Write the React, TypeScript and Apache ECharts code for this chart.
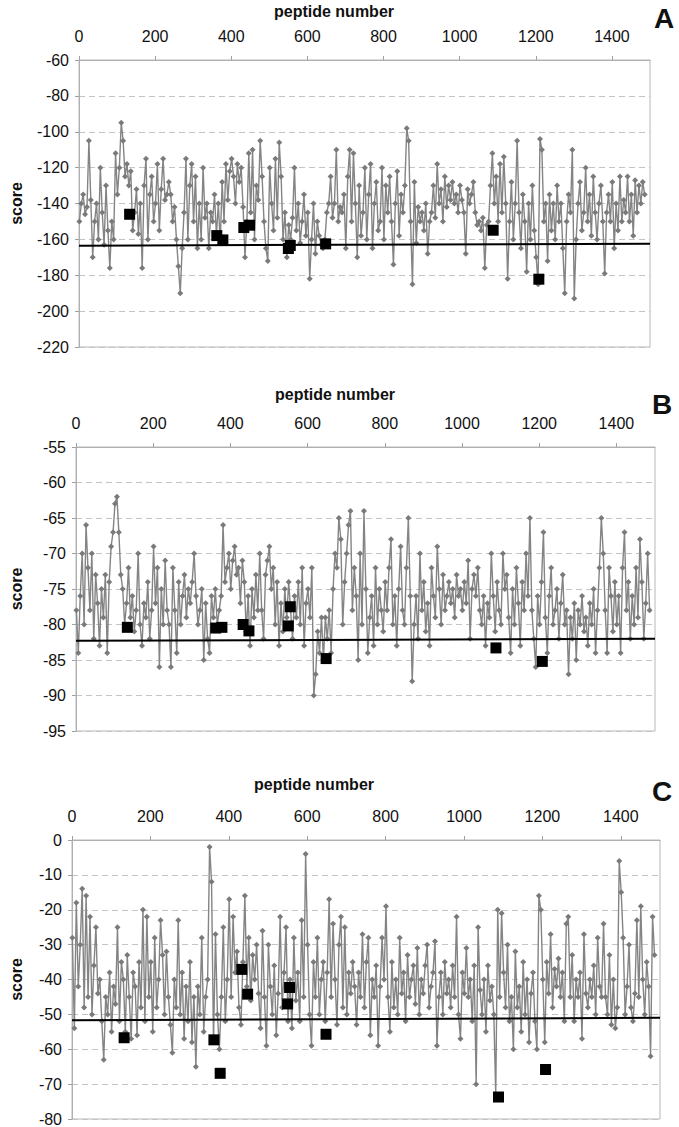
import React, { useEffect, useRef } from "react";
import * as echarts from "echarts";

// Scores, one sample every STEP peptides (1, 6, 11, ...)
const STEP = 5;

const scoresA = [
  -150, -140, -135, -146, -142, -105, -138, -170, -150, -140, -160, -120, -145, -163, -130, -155,
  -176, -150, -160, -112, -135, -120, -95, -105, -125, -118, -130, -122, -155, -145, -132, -157,
  -140, -176, -130, -115, -160, -135, -125, -150, -140, -118, -155, -132, -115, -138, -135, -128,
  -135, -150, -142, -160, -175, -190, -165, -145, -115, -160, -130, -118, -150, -125, -165, -140,
  -160, -120, -148, -140, -165, -145, -150, -135, -158, -140, -162, -128, -150, -118, -138, -122,
  -115, -125, -140, -118, -128, -120, -142, -170, -150, -112, -145, -110, -160, -130, -138, -105,
  -125, -150, -165, -172, -120, -140, -155, -115, -148, -106, -125, -160, -145, -170, -152, -160,
  -148, -120, -155, -140, -162, -150, -135, -158, -145, -182, -160, -140, -168, -150, -158, -163,
  -165, -160, -145, -140, -125, -148, -140, -110, -150, -142, -145, -135, -165, -125, -110, -150,
  -112, -140, -170, -130, -158, -145, -120, -160, -135, -118, -165, -140, -128, -155, -150, -120,
  -160, -130, -145, -125, -150, -174, -140, -122, -158, -135, -145, -130, -98, -105, -150, -185,
  -128, -162, -142, -150, -145, -155, -140, -168, -150, -145, -130, -148, -118, -140, -132, -150,
  -125, -142, -130, -138, -128, -140, -135, -145, -130, -138, -145, -168, -132, -140, -135, -128,
  -145, -152, -150, -155, -148, -176, -152, -150, -130, -112, -140, -125, -150, -118, -145, -114,
  -140, -182, -150, -128, -160, -140, -105, -145, -165, -135, -150, -178, -140, -160, -130, -155,
  -170, -185, -104, -110, -150, -140, -172, -135, -155, -140, -160, -130, -150, -140, -165, -190,
  -150, -135, -145, -110, -193, -160, -140, -128, -155, -145, -120, -150, -135, -158, -125, -145,
  -160, -140, -130, -150, -179, -145, -135, -150, -128, -165, -140, -155, -125, -150, -138, -145,
  -125, -150, -135, -158, -127, -145, -130, -140, -128, -135,
];

const scoresB = [
  -78, -84, -76, -70, -80, -66, -72, -78, -70, -82, -73, -77, -83, -75, -79, -73,
  -84, -74, -69, -67, -63, -62, -67, -73, -75, -80, -77, -72, -79, -76, -81, -78,
  -70, -80, -83, -77, -79, -74, -82, -78, -69, -77, -72, -86, -75, -80, -71, -78,
  -80, -86, -72, -78, -84, -74, -80, -76, -73, -79, -75, -77, -74, -70, -76, -80,
  -78, -75, -85, -77, -82, -84, -76, -79, -75, -80, -78, -76, -66, -74, -72, -70,
  -75, -71, -69, -73, -72, -77, -71, -74, -81, -76, -83, -75, -79, -73, -78, -70,
  -78, -82, -73, -71, -69, -75, -72, -80, -74, -83, -77, -81, -75, -79, -74, -78,
  -82, -76, -79, -74, -80, -72, -83, -77, -75, -79, -72, -90, -87, -81, -84, -79,
  -85, -79, -82, -78, -84, -75, -70, -72, -65, -68, -80, -74, -70, -66, -64, -78,
  -72, -76, -85, -70, -80, -64, -75, -84, -79, -76, -83, -72, -80, -75, -78, -81,
  -74, -78, -72, -68, -80, -76, -83, -75, -69, -78, -80, -72, -65, -76, -88, -80,
  -76, -82, -70, -78, -74, -81, -77, -83, -72, -76, -79, -69, -75, -80, -73, -78,
  -76, -74, -77, -75, -79, -73, -76, -75, -78, -74, -77, -71, -82, -75, -73, -76,
  -72, -78, -80, -76, -83, -77, -79, -70, -76, -81, -74, -78, -80, -70, -75, -73,
  -79, -84, -75, -80, -72, -77, -83, -74, -78, -70, -76, -65, -78, -82, -86, -76,
  -80, -74, -67, -79, -84, -76, -72, -80, -78, -75, -82, -77, -73, -80, -78, -87,
  -79, -82, -77, -85, -78, -80, -76, -81, -79, -83, -77, -80, -75, -84, -78, -72,
  -65, -70, -78, -84, -72, -76, -81, -74, -80, -76, -84, -72, -67, -78, -74, -82,
  -76, -80, -72, -79, -68, -74, -82, -77, -70, -78,
];

const scoresC = [
  -28, -54, -18, -42, -30, -14, -48, -16, -45, -22, -50, -36, -25, -44, -40, -52,
  -63, -45, -50, -38, -55, -42, -47, -25, -52, -35, -40, -55, -33, -45, -57, -38,
  -42, -56, -35, -48, -20, -52, -22, -45, -35, -55, -28, -48, -40, -23, -33, -50,
  -32, -45, -53, -61, -40, -48, -23, -50, -38, -57, -42, -52, -35, -58, -45, -65,
  -42, -50, -28, -55, -45, -40, -2, -12, -58, -27, -50, -60, -45, -25, -52, -40,
  -17, -45, -22, -38, -32, -48, -53, -35, -16, -42, -28, -46, -33, -40, -30, -44,
  -54, -26, -45, -59, -30, -42, -50, -36, -56, -44, -22, -48, -38, -25, -52, -40,
  -54, -28, -46, -38, -52, -23, -45, -4, -30, -50, -59, -35, -45, -28, -50, -40,
  -35, -52, -38, -17, -45, -24, -40, -53, -30, -22, -48, -25, -50, -38, -44, -35,
  -42, -53, -38, -45, -27, -48, -35, -28, -56, -40, -45, -36, -59, -42, -28, -40,
  -19, -45, -55, -35, -48, -40, -50, -28, -44, -38, -52, -33, -45, -40, -36, -47,
  -31, -50, -40, -44, -36, -30, -48, -42, -38, -29, -59, -45, -38, -50, -35, -44,
  -40, -48, -36, -45, -22, -50, -57, -38, -44, -31, -45, -40, -52, -36, -70, -25,
  -43, -50, -40, -55, -36, -46, -42, -50, -73, -20, -45, -21, -38, -48, -30, -52,
  -45, -60, -32, -48, -42, -55, -35, -50, -40, -58, -44, -38, -52, -60, -16, -20,
  -40, -58, -35, -44, -27, -48, -37, -42, -34, -45, -38, -52, -24, -22, -45, -33,
  -52, -40, -45, -38, -57, -27, -44, -48, -40, -45, -36, -50, -28, -42, -45, -24,
  -45, -50, -33, -53, -40, -54, -48, -6, -15, -28, -50, -42, -30, -48, -52, -44,
  -23, -45, -19, -40, -50, -35, -42, -62, -22, -33,
];

// highlighted peptides (black squares)
const markedPeptides = [133, 362, 378, 433, 448, 550, 555, 648, 1088, 1208];
const markedA = [-146, -157.9, -160.3, -153.4, -152.1, -165.1, -163.4, -162.5, -154.9, -182.2];
const markedB = [-80.4, -80.5, -80.4, -80.0, -80.9, -80.2, -77.5, -84.8, -83.3, -85.2];
const markedC = [-56.7, -57.3, -66.9, -37.1, -44.2, -47.0, -42.3, -55.7, -73.7, -65.8];

// threshold line (start, end)
const thresholdX = [0, 1500];
const thresholdA = [-163.5, -162.5];
const thresholdB = [-82.3, -82.0];
const thresholdC = [-51.7, -51.0];

const panelLetters = ["A", "B", "C"];
const xTitle = "peptide number";
const yTitle = "score";
const xMin = 0;
const xMax = 1500;
const xInterval = 200;
const yMins = [-220, -95, -80];
const yMaxs = [-60, -55, 0];
const yIntervals = [20, 5, 10];

const FONT = '"Liberation Sans", Arial, Helvetica, sans-serif';

export default function App() {
  const ref = useRef<HTMLDivElement>(null);

  useEffect(() => {
    document.body.style.margin = "0";
    if (!ref.current) return;
    const chart = echarts.init(ref.current, undefined, { renderer: "svg" });

    const scores = [scoresA, scoresB, scoresC];
    const marked = [markedA, markedB, markedC];
    const thresholds = [thresholdA, thresholdB, thresholdC];

    const grids = [
      { left: 64, top: 60, width: 586, height: 287 },
      { left: 61, top: 447, width: 594, height: 284 },
      { left: 57, top: 840, width: 603, height: 280 },
    ];
    const nameGaps = [55, 52, 48];
    const titlePos = [
      [334, 11],
      [335, 394],
      [314, 784],
    ];
    const letterPos = [
      [664, 18],
      [662, 404],
      [662, 791],
    ];

    const xAxis: any[] = [];
    const yAxis: any[] = [];
    const series: any[] = [];
    const graphic: any[] = [];

    for (let i = 0; i < 3; i++) {
      xAxis.push({
        type: "value",
        gridIndex: i,
        position: "top",
        min: xMin,
        max: xMax,
        interval: xInterval,
        axisLine: { show: true, lineStyle: { color: "#b0b0b0", width: 1 } },
        axisTick: { show: true, length: 4, lineStyle: { color: "#a0a0a0" } },
        axisLabel: {
          show: true,
          showMaxLabel: false,
          margin: 16,
          fontSize: 16,
          color: "#111",
          fontFamily: FONT,
          formatter: (v: number) => String(v),
        },
        splitLine: { show: false },
      });
      yAxis.push({
        type: "value",
        gridIndex: i,
        min: yMins[i],
        max: yMaxs[i],
        interval: yIntervals[i],
        name: yTitle,
        nameLocation: "middle",
        nameGap: nameGaps[i],
        nameRotate: 90,
        nameTextStyle: { fontSize: 16, fontWeight: "bold", color: "#111", fontFamily: FONT },
        axisLine: { show: true, lineStyle: { color: "#b0b0b0", width: 1 } },
        axisTick: { show: true, length: 4, lineStyle: { color: "#a0a0a0" } },
        axisLabel: {
          margin: 10,
          fontSize: 16,
          color: "#111",
          fontFamily: FONT,
          formatter: (v: number) => String(v),
        },
        splitLine: {
          show: true,
          lineStyle: { color: "#c4c4c4", type: [6, 4], width: 1 },
        },
      });

      const pts = scores[i].map((v, k) => [1 + k * STEP, v]);
      series.push({
        type: "line",
        xAxisIndex: i,
        yAxisIndex: i,
        data: pts,
        symbol: "diamond",
        symbolSize: 6,
        showSymbol: true,
        lineStyle: { color: "#848484", width: 1.4 },
        itemStyle: { color: "#7a7a7a", opacity: 1 },
        z: 2,
        silent: true,
      });
      series.push({
        type: "line",
        xAxisIndex: i,
        yAxisIndex: i,
        data: thresholdX.map((x, k) => [x, thresholds[i][k]]),
        symbol: "none",
        lineStyle: { color: "#000", width: 2 },
        z: 3,
        silent: true,
      });
      series.push({
        type: "scatter",
        xAxisIndex: i,
        yAxisIndex: i,
        data: markedPeptides.map((x, k) => [x, marked[i][k]]),
        symbol: "rect",
        symbolSize: 11,
        itemStyle: { color: "#000", opacity: 1 },
        z: 4,
        silent: true,
      });

      graphic.push({
        type: "text",
        x: titlePos[i][0],
        y: titlePos[i][1],
        style: {
          text: xTitle,
          fontSize: 16,
          fontWeight: "bold",
          fontFamily: FONT,
          fill: "#111",
          textAlign: "center",
          textVerticalAlign: "middle",
        },
      });
      graphic.push({
        type: "text",
        x: letterPos[i][0],
        y: letterPos[i][1],
        style: {
          text: panelLetters[i],
          fontSize: 28,
          fontWeight: "bold",
          fontFamily: FONT,
          fill: "#111",
          textAlign: "center",
          textVerticalAlign: "middle",
        },
      });
    }

    chart.setOption({
      animation: false,
      backgroundColor: "#fff",
      grid: grids.map((g) => ({
        ...g,
        show: true,
        borderColor: "#b8b8b8",
        borderWidth: 1,
        containLabel: false,
      })),
      xAxis,
      yAxis,
      series,
      graphic,
    });

    return () => chart.dispose();
  }, []);

  return <div ref={ref} style={{ width: 679, height: 1127 }} />;
}
